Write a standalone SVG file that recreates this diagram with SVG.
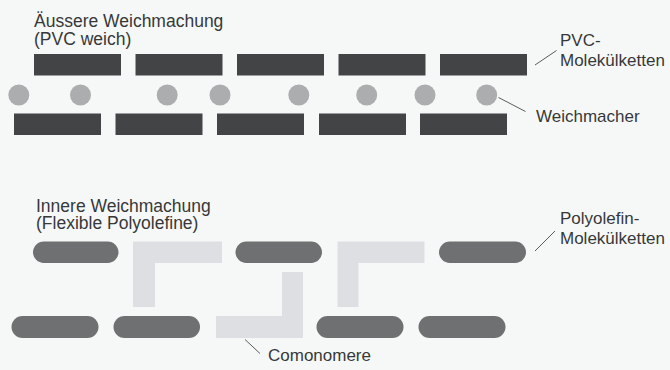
<svg xmlns="http://www.w3.org/2000/svg" width="670" height="370" viewBox="0 0 670 370">
  <defs>
    <style>
      .lbl { font-family: "Liberation Sans", Arial, sans-serif; font-size: 17px; fill: #36383a; }
      .ttl { font-size: 17.5px; }
      .pvc { fill: #424446; }
      .wm { fill: #acadaf; }
      .po { fill: #6f7071; }
      .co { fill: #dedfe2; }
      .lead { stroke: #5a5c5e; stroke-width: 1; fill: none; }
    </style>
  </defs>
  <rect x="0" y="0" width="670" height="370" fill="#f6f8f8"/>

  <g id="title-outer">
    <text class="lbl ttl" x="34" y="26.5">Äussere Weichmachung</text>
    <text class="lbl ttl" x="34" y="44.5">(PVC weich)</text>
  </g>

  <g id="pvc-chains">
    <rect class="pvc" x="34" y="54" width="87" height="21.5"/>
    <rect class="pvc" x="135.5" y="54" width="87" height="21.5"/>
    <rect class="pvc" x="237" y="54" width="87" height="21.5"/>
    <rect class="pvc" x="338.5" y="54" width="87" height="21.5"/>
    <rect class="pvc" x="440" y="54" width="87" height="21.5"/>
    <rect class="pvc" x="14" y="113.5" width="87" height="21.5"/>
    <rect class="pvc" x="115.5" y="113.5" width="87" height="21.5"/>
    <rect class="pvc" x="217" y="113.5" width="87" height="21.5"/>
    <rect class="pvc" x="319" y="113.5" width="87" height="21.5"/>
    <rect class="pvc" x="420" y="113.5" width="87" height="21.5"/>
  </g>

  <g id="weichmacher">
    <circle class="wm" cx="18.8" cy="95" r="10.5"/>
    <circle class="wm" cx="80.5" cy="95" r="10.5"/>
    <circle class="wm" cx="167.2" cy="95" r="10.5"/>
    <circle class="wm" cx="220" cy="95" r="10.5"/>
    <circle class="wm" cx="298.8" cy="95" r="10.5"/>
    <circle class="wm" cx="366.7" cy="95" r="10.5"/>
    <circle class="wm" cx="425" cy="95" r="10.5"/>
    <circle class="wm" cx="486.7" cy="95" r="10.5"/>
  </g>

  <g id="label-pvc">
    <text class="lbl" x="560" y="45.5">PVC-</text>
    <text class="lbl" x="560" y="65.5">Molekülketten</text>
  </g>
  <g id="label-weichmacher">
    <text class="lbl" x="536" y="121.7">Weichmacher</text>
  </g>

  <g id="title-inner">
    <text class="lbl ttl" x="36" y="211.5">Innere Weichmachung</text>
    <text class="lbl ttl" x="36" y="229">(Flexible Polyolefine)</text>
  </g>

  <g id="comonomere">
    <path class="co" d="M133,241.5 H222 V263 H155 V307 H133 Z"/>
    <path class="co" d="M282,272 H303 V338 H216 V316 H282 Z"/>
    <path class="co" d="M337.5,241.5 H424.5 V263 H358.5 V307 H337.5 Z"/>
  </g>

  <g id="polyolefin-chains">
    <rect class="po" x="33" y="241.5" width="85.5" height="21.5" rx="10.75"/>
    <rect class="po" x="235.5" y="241.5" width="86.5" height="21.5" rx="10.75"/>
    <rect class="po" x="439" y="241.5" width="87" height="21.5" rx="10.75"/>
    <rect class="po" x="11.5" y="316" width="87" height="22" rx="11"/>
    <rect class="po" x="113.5" y="316" width="86.5" height="22" rx="11"/>
    <rect class="po" x="316.5" y="316" width="87" height="22" rx="11"/>
    <rect class="po" x="418.5" y="316" width="87" height="22" rx="11"/>
  </g>

  <g id="label-polyolefin">
    <text class="lbl" x="560" y="224">Polyolefin-</text>
    <text class="lbl" x="560" y="244">Molekülketten</text>
  </g>
  <g id="label-comonomere">
    <text class="lbl" x="268" y="361">Comonomere</text>
  </g>

  <g id="connectors">
    <line class="lead" x1="535" y1="65" x2="556.5" y2="50.5"/>
    <line class="lead" x1="498.5" y1="97.5" x2="525.5" y2="111.5"/>
    <line class="lead" x1="535" y1="251" x2="555" y2="231"/>
    <line class="lead" x1="245" y1="339.5" x2="260" y2="353.5"/>
  </g>
</svg>
